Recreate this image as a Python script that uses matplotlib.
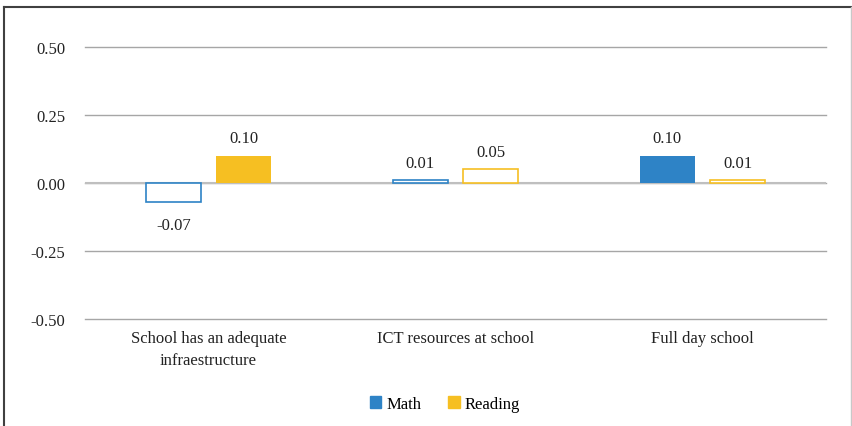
import matplotlib
matplotlib.use("Agg")
import matplotlib.pyplot as plt
from matplotlib.lines import Line2D
from matplotlib.patches import Patch
import numpy as np

categories = ["School has an adequate\ninfraestructure", "ICT resources at school", "Full day school"]
math_vals = [-0.07, 0.01, 0.10]
reading_vals = [0.10, 0.05, 0.01]
math_filled = [False, False, True]
reading_filled = [True, False, False]
yticks = [-0.50, -0.25, 0.00, 0.25, 0.50]

MATH_C = "#2E83C6"
READ_C = "#F6BF22"

plt.rcParams['font.family'] = ['Liberation Serif', 'DejaVu Serif']
FS = 12

fig = plt.figure(figsize=(8.52, 4.27), dpi=100)
ax = fig.add_axes([85/852, 1-320/427, (826-85)/852, (320-48)/427])

x = np.arange(len(categories))
w = 0.223
off = 0.142

for i in range(len(categories)):
    for val, filled, c, dx in [(math_vals[i], math_filled[i], MATH_C, -off),
                               (reading_vals[i], reading_filled[i], READ_C, off)]:
        if filled:
            ax.bar(x[i] + dx, val, w, color=c, zorder=3)
        else:
            ax.bar(x[i] + dx, val, w, facecolor="white", edgecolor=c, linewidth=1.2, zorder=3)
        if val >= 0:
            ax.text(x[i] + dx, val + 0.035, f"{val:.2f}", ha="center", va="bottom", fontsize=FS, color="#222222")
        else:
            ax.text(x[i] + dx, val - 0.055, f"{val:.2f}", ha="center", va="top", fontsize=FS, color="#222222")

ax.set_xlim(-0.5, len(categories) - 0.5)
ax.set_ylim(-0.5, 0.5)
ax.set_yticks(yticks)
ax.set_yticklabels([f"{t:.2f}" for t in yticks], fontsize=FS, color="#222222")
ax.set_xticks(x)
ax.set_xticklabels(categories, fontsize=FS, color="#222222", linespacing=1.45)
ax.tick_params(axis="both", length=0)
ax.tick_params(axis="y", pad=14)
ax.tick_params(axis="x", pad=8)
for t in yticks:
    ax.axhline(t, color="#A6A6A6", linewidth=1.0, zorder=0, clip_on=False)
ax.axhline(0, color="#BFBFBF", linewidth=1.5, zorder=2)
for s in ax.spines.values():
    s.set_visible(False)

handles = [Patch(facecolor=MATH_C, edgecolor=MATH_C), Patch(facecolor=READ_C, edgecolor=READ_C)]
fig.legend(handles, ["Math", "Reading"], loc="center", bbox_to_anchor=(445/852, 1-405/427),
           ncol=2, frameon=False, fontsize=FS, handlelength=0.7, handleheight=0.7,
           handletextpad=0.3, columnspacing=1.6)

# frame around figure (top, left dark; right light)
fig.add_artist(Line2D([3.5/852, 851/852], [1-7.5/427, 1-7.5/427], transform=fig.transFigure, color="#404040", linewidth=1.5))
fig.add_artist(Line2D([3.5/852, 3.5/852], [0, 1-7.5/427], transform=fig.transFigure, color="#404040", linewidth=1.5))
fig.add_artist(Line2D([850.5/852, 850.5/852], [0, 1-7.5/427], transform=fig.transFigure, color="#C8C8C8", linewidth=1.0))

fig.savefig("out.png", dpi=100)
